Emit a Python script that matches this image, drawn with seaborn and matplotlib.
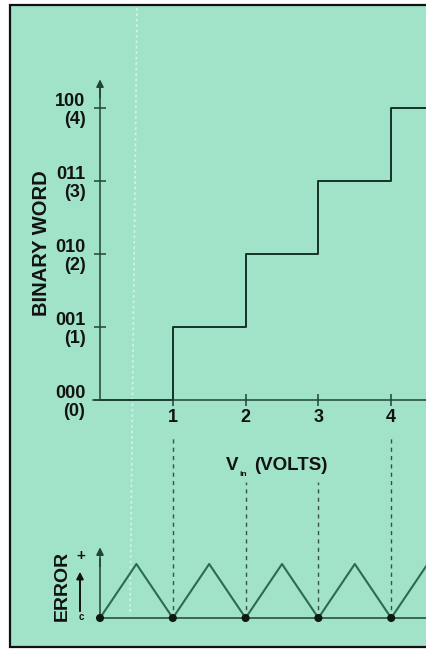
import numpy as np
import pandas as pd
import seaborn as sns
import matplotlib.pyplot as plt
from matplotlib.patches import Rectangle
from matplotlib.lines import Line2D

# Transfer curve of an ideal 3-bit A/D converter
volts = [0, 1, 2, 3, 4, 4.5]
codes = [0, 1, 2, 3, 4, 4]
code_ticks = [0, 1, 2, 3, 4]
code_labels = ["000\n(0)", "001\n(1)", "010\n(2)", "011\n(3)", "100\n(4)"]
volt_ticks = [1, 2, 3, 4]
volt_labels = ["1", "2", "3", "4"]

# Quantization error (in LSB) along the input range
err_volts = [0, 0.5, 1, 1.5, 2, 2.5, 3, 3.5, 4, 4.5]
err_values = [0, 0.5, 0, 0.5, 0, 0.5, 0, 0.5, 0, 0.5]
zero_volts = [0, 1, 2, 3, 4]
zero_err = [0, 0, 0, 0, 0]

sns.set_theme(style="white")
plt.rcParams["font.family"] = ["Liberation Sans", "DejaVu Sans"]
plt.rcParams["font.weight"] = "bold"

W, H = 426, 649
BG = "#a0e3c8"
INK = "#121212"
AXC = "#1e4536"
STEP = "#14332a"
TRI = "#2c6b50"


def fx(x):
    return x / W


def fy(y):
    return 1 - y / H


fig = plt.figure(figsize=(W / 100, H / 100), dpi=100, facecolor="white")

# panel background with its frame
fig.patches.append(Rectangle((fx(10), fy(647)), 1.2, (647 - 5) / H,
                             transform=fig.transFigure, facecolor=BG,
                             edgecolor="#111111", lw=1.6, zorder=-2))
# faint show-through line on the paper
fig.lines.append(Line2D([fx(137), fx(130)], [fy(8), fy(615)],
                        transform=fig.transFigure, color="#d2f1e6",
                        lw=1.3, ls=(0, (1.5, 1.5)), zorder=-1))

x0, unit = 100, 72.8
xlim = ((0 - x0) / unit, (W - x0) / unit)

# ---- upper panel: binary word vs input voltage ----
ax = fig.add_axes([0, fy(420), 1, 420 / H])
ax.set_facecolor("none")
ax.set_xlim(*xlim)
ax.set_ylim(-(420 - 400) / 73, 400 / 73)
for s in ("top", "right"):
    ax.spines[s].set_visible(False)
ax.spines["left"].set_position(("data", 0))
ax.spines["bottom"].set_position(("data", 0))
ax.spines["left"].set_bounds(0, 4.3)
ax.spines["bottom"].set_bounds(-0.1, xlim[1])
for s in ("left", "bottom"):
    ax.spines[s].set_color(AXC)
    ax.spines[s].set_linewidth(1.1)
ax.annotate("", xy=(0, 4.43), xytext=(0, 4.1),
            arrowprops=dict(arrowstyle="-|>", color=AXC, lw=1.1,
                            mutation_scale=11))

sns.lineplot(x=volts, y=codes, drawstyle="steps-post", color=STEP,
             lw=1.4, ax=ax)

ax.set_yticks(code_ticks)
ax.set_yticklabels(code_labels)
ax.set_xticks(volt_ticks)
ax.set_xticklabels(volt_labels)
ax.tick_params(axis="both", direction="inout", length=8, width=1.1,
               color=AXC, labelcolor=INK, labelsize=13)
ax.tick_params(axis="y", pad=6.5)
ax.tick_params(axis="x", pad=2.5)
ax.tick_params(left=True, bottom=True)
for lbl in ax.get_yticklabels():
    lbl.set_multialignment("right")
    lbl.set_linespacing(1.05)
    lbl.set_fontweight("bold")
for lbl in ax.get_xticklabels():
    lbl.set_fontweight("bold")
ax.set_xlabel("")
ax.set_ylabel("")

fig.text(fx(42), fy(243), "BINARY WORD", rotation=90, ha="center",
         va="center", fontsize=14.5, fontweight="bold", color=INK)

# axis title between the panels
fig.text(fx(226), fy(465), "V", ha="left", va="center", fontsize=13.5,
         fontweight="bold", color=INK)
fig.text(fx(239), fy(474), "in", ha="left", va="center", fontsize=6,
         fontweight="bold", color=INK)
fig.text(fx(254), fy(465), "(VOLTS)", ha="left", va="center",
         fontsize=13.5, fontweight="bold", color=INK)

# ---- lower panel: quantization error ----
ax2 = fig.add_axes([0, 0, 1, (H - 420) / H])
ax2.set_facecolor("none")
ax2.set_xlim(*xlim)
ax2.set_ylim(-(H - 618) / 108, (618 - 420) / 108)
for s in ("top", "right"):
    ax2.spines[s].set_visible(False)
ax2.spines["left"].set_position(("data", 0))
ax2.spines["bottom"].set_position(("data", 0))
ax2.spines["left"].set_bounds(0, 0.55)
ax2.spines["bottom"].set_bounds(0, xlim[1])
for s in ("left", "bottom"):
    ax2.spines[s].set_color(AXC)
    ax2.spines[s].set_linewidth(1.1)
ax2.set_xticks([])
ax2.set_yticks([])
ax2.annotate("", xy=(0, 0.68), xytext=(0, 0.45),
             arrowprops=dict(arrowstyle="-|>", color=AXC, lw=1.1,
                             mutation_scale=11))

# dashed guides from the voltage ticks down to the error zeros
guide_tops = {1: 1.69, 2: 1.26, 3: 1.26, 4: 1.69}
for v in volt_ticks:
    ax2.vlines(v, 0, guide_tops[v], colors="#3a4f46", lw=1.0,
               linestyles=(0, (3, 3)))

sns.lineplot(x=err_volts, y=err_values, color=TRI, lw=1.5, ax=ax2,
             sort=False)
sns.scatterplot(x=zero_volts, y=zero_err, s=34, color="#101810",
                edgecolor="none", zorder=5, ax=ax2)
ax2.set_xlabel("")
ax2.set_ylabel("")

fig.text(fx(62), fy(586), "ERROR", rotation=90, ha="center", va="center",
         fontsize=14, fontweight="bold", color=INK)
ax2.annotate("", xy=(80, H - 569), xytext=(80, H - 614),
             xycoords="figure pixels", textcoords="figure pixels",
             arrowprops=dict(arrowstyle="-|>", color=INK, lw=1.4,
                             mutation_scale=10))
fig.text(fx(81), fy(556), "+", ha="center", va="center", fontsize=11,
         fontweight="bold", color=INK)
fig.text(fx(81), fy(617), "c", ha="center", va="center", fontsize=7,
         fontweight="bold", color=INK)

fig.savefig("out.png", dpi=100, facecolor="white")
